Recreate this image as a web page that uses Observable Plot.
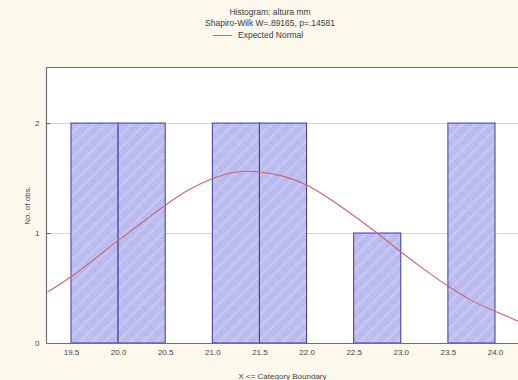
<!DOCTYPE html>
<html>
<head>
<meta charset="utf-8">
<script src="https://cdn.jsdelivr.net/npm/d3@7"></script>
<script src="https://cdn.jsdelivr.net/npm/@observablehq/plot@0.6"></script>
<style>
  html, body { margin: 0; padding: 0; background: #fcf8ec; }
  #wrap { position: relative; width: 518px; height: 380px; overflow: hidden;
          font-family: "Liberation Sans", Arial, sans-serif; color: #3a3a3a; }
  #head { position: relative; height: 62px; }
  .t { position: absolute; left: 0; width: 540px; text-align: center; font-size: 8.5px; }
  #legend { position: absolute; top: 30px; left: 213px; font-size: 8.5px; display: flex; align-items: center; }
  #legend span.sw { display: inline-block; width: 19px; height: 1px; background: #d06a72; margin-right: 6px; }
  svg { display: block; }
</style>
</head>
<body>
<div id="wrap">
  <div id="head">
    <div class="t" style="top:7px">Histogram: altura mm</div>
    <div class="t" style="top:18px">Shapiro-Wilk W=.89165, p=.14581</div>
    <div id="legend"><span class="sw"></span>Expected Normal</div>
  </div>
  <div id="chart"></div>
</div>
<script>
// Category boundaries (each class is 0.5 wide) and observed counts
const binLower = [19.5, 20.0, 20.5, 21.0, 21.5, 22.0, 22.5, 23.0, 23.5];
const binUpper = [20.0, 20.5, 21.0, 21.5, 22.0, 22.5, 23.0, 23.5, 24.0];
const counts   = [2, 2, 0, 2, 2, 0, 1, 0, 2];

// Expected normal curve, expected count per class
const curveX = [19.25, 19.5, 19.75, 20.0, 20.25, 20.5, 20.75, 21.0, 21.25, 21.5, 21.75,
                22.0, 22.25, 22.5, 22.75, 23.0, 23.25, 23.5, 23.75, 24.0, 24.25];
const curveY = [0.47, 0.61, 0.77, 0.94, 1.10, 1.26, 1.40, 1.50, 1.56, 1.56, 1.52,
                1.44, 1.31, 1.16, 1.00, 0.83, 0.67, 0.52, 0.39, 0.29, 0.20];

const xTicks = [19.5, 20.0, 20.5, 21.0, 21.5, 22.0, 22.5, 23.0, 23.5, 24.0];
const yTicks = [0, 1, 2];

const xDomain = [19.235, 24.244];
const yDomain = [0, 2.51];

const bars = counts.map((c, i) => ({x1: binLower[i], x2: binUpper[i], y: c})).filter(d => d.y > 0);
const curve = curveX.map((x, i) => ({x, y: curveY[i]}));

const plot = Plot.plot({
  width: 518,
  height: 318,
  marginTop: 5,
  marginBottom: 37,
  marginLeft: 46,
  marginRight: 0,
  style: {fontFamily: "'Liberation Sans', Arial, sans-serif", fontSize: "8px", color: "#3a3a3a", background: "transparent", overflow: "visible"},
  x: {type: "linear", domain: xDomain},
  y: {type: "linear", domain: yDomain},
  marks: [
    // white plotting area
    Plot.frame({fill: "white", stroke: "none"}),
    Plot.ruleY(yTicks.filter(d => d > 0), {stroke: "#d4d4d4"}),
    Plot.rectY(bars, {x1: "x1", x2: "x2", y: "y", fill: "url(#hatch)", stroke: "#3a3a9c", strokeWidth: 1}),
    Plot.line(curve, {x: "x", y: "y", curve: "natural", stroke: "#c9646e", strokeWidth: 1.1}),
    Plot.ruleY([yDomain[0]], {stroke: "#707070", strokeWidth: 1.2}),
    Plot.ruleY([yDomain[1]], {stroke: "#707070", strokeWidth: 1.2}),
    Plot.ruleX([xDomain[0]], {stroke: "#707070", strokeWidth: 1.2}),
    // short inward tick marks on the left edge
    Plot.ruleY(yTicks.filter(d => d > 0), {x1: xDomain[0], x2: xDomain[0] + 0.045, stroke: "#606060"}),
    Plot.axisX(xTicks, {tickFormat: d3.format(".1f"), tickSize: 0, tickPadding: 6, fill: "#444",
                label: "X <= Category Boundary", labelAnchor: "center", labelOffset: 35, labelArrow: "none"}),
    Plot.axisY(yTicks, {tickFormat: d3.format("d"), tickSize: 0, tickPadding: 7, fill: "#444",
                label: "No. of obs.", labelAnchor: "center", labelOffset: 22, labelArrow: "none"})
  ]
});

// Hatched, stippled fill for the histogram bars
const defs = `
<defs>
  <pattern id="dots" patternUnits="userSpaceOnUse" width="2" height="2">
    <rect width="2" height="2" fill="#c2c2f3"></rect>
    <rect width="1" height="1" fill="#a8a8e6"></rect>
  </pattern>
  <pattern id="hatch" patternUnits="userSpaceOnUse" width="9" height="9" patternTransform="rotate(-45)">
    <rect width="9" height="9" fill="url(#dots)"></rect>
    <rect width="9" height="4" fill="#c9c9f6" fill-opacity="0.7"></rect>
  </pattern>
</defs>`;
plot.insertAdjacentHTML("afterbegin", defs);
document.getElementById("chart").appendChild(plot);
</script>
</body>
</html>
